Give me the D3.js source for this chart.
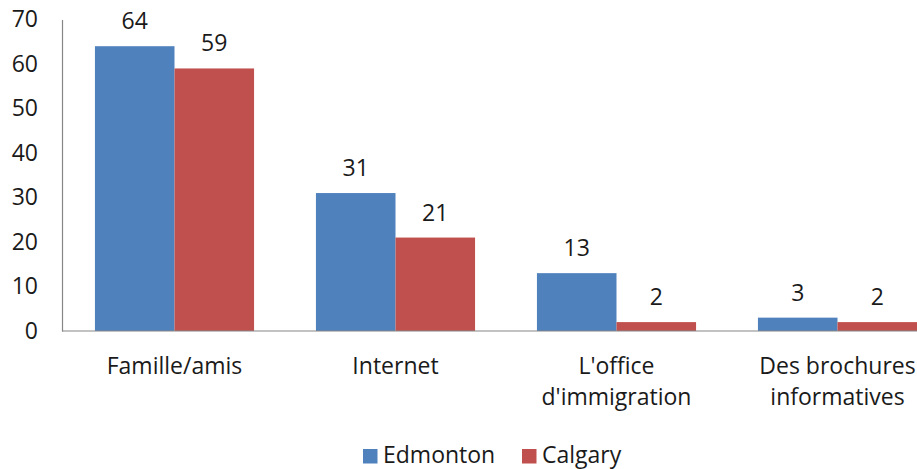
<!DOCTYPE html>
<html>
<head>
<meta charset="utf-8">
<script src="https://cdn.jsdelivr.net/npm/d3@7"></script>
<style>
  html, body { margin: 0; padding: 0; background: #fff; }
  svg text { font-family: "Open Sans", sans-serif; fill: #1a1a1a; }
</style>
</head>
<body>
<svg id="chart" width="917" height="469"></svg>
<script>
const categories = [["Famille/amis"], ["Internet"], ["L'office", "d'immigration"], ["Des brochures", "informatives"]];
const seriesNames = ["Edmonton", "Calgary"];
const edmonton = [64, 31, 13, 3];
const calgary = [59, 21, 2, 2];
const yTicks = [0, 10, 20, 30, 40, 50, 60, 70];
const colors = ["#4F81BD", "#C0504D"];

const FS = 23;
const svg = d3.select("#chart");
const axisX = 62;
const x = d3.scaleBand()
  .domain(d3.range(categories.length))
  .range([64, 64 + 221 * categories.length])
  .paddingInner(0.28).paddingOuter(0.14);
const xs = d3.scaleBand().domain(d3.range(seriesNames.length)).range([0, x.bandwidth()]);
const y = d3.scaleLinear().domain([0, 70]).range([331, 19.5]);

// y axis: labels only, no tick marks
const yAxis = d3.axisLeft(y).tickValues(yTicks).tickSize(0).tickPadding(24);
const gy = svg.append("g").attr("transform", `translate(${axisX},0)`).call(yAxis);
gy.select(".domain").attr("stroke", "#868686").attr("stroke-width", 1.2);
gy.selectAll("text").attr("font-size", FS).attr("font-family", "'Open Sans', sans-serif").attr("fill", "#1a1a1a");

const data = [edmonton, calgary];
data.forEach((vals, s) => {
  const g = svg.append("g");
  g.selectAll("rect").data(vals).join("rect")
    .attr("x", (d, i) => x(i) + xs(s))
    .attr("y", d => y(d))
    .attr("width", xs.bandwidth())
    .attr("height", d => y(0) - y(d))
    .attr("fill", colors[s]);
  g.selectAll("text").data(vals).join("text")
    .attr("x", (d, i) => x(i) + xs(s) + xs.bandwidth() / 2)
    .attr("y", d => y(d) - 17)
    .attr("text-anchor", "middle")
    .attr("font-size", FS)
    .text(d => d);
});

// x axis baseline
svg.append("line")
  .attr("x1", axisX).attr("x2", 917)
  .attr("y1", y(0)).attr("y2", y(0))
  .attr("stroke", "#868686").attr("stroke-width", 1.2);

// category labels
const cl = svg.append("g");
categories.forEach((lines, i) => {
  const cx = x(i) + x.bandwidth() / 2;
  const t = cl.append("text")
    .attr("x", cx)
    .attr("y", 374)
    .attr("text-anchor", "middle")
    .attr("font-size", FS);
  lines.forEach((ln, k) => {
    t.append("tspan").attr("x", cx).attr("dy", k === 0 ? 0 : 31).text(ln);
  });
});

// legend
const legendX = [363, 522];
seriesNames.forEach((n, s) => {
  svg.append("rect").attr("x", legendX[s]).attr("y", 449).attr("width", 14.5).attr("height", 14.5).attr("fill", colors[s]);
  svg.append("text").attr("x", legendX[s] + 20).attr("y", 463).attr("font-size", FS).text(n);
});
</script>
</body>
</html>
